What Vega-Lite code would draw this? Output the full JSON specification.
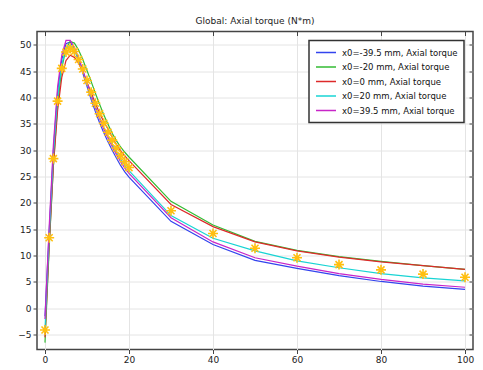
{
  "$schema": "https://vega.github.io/schema/vega-lite/v6.json",
  "width": 436,
  "height": 318,
  "autosize": "none",
  "padding": {"left": 37, "top": 31.5, "right": 10, "bottom": 20},
  "background": "white",
  "title": {"text": "Global: Axial torque (N*m)", "fontSize": 9, "fontWeight": "normal", "font": "DejaVu Sans", "color": "#222", "offset": 5},
  "config": {
    "view": {"stroke": "#444", "strokeWidth": 1.5},
    "axis": {"labelFont": "DejaVu Sans", "labelFontSize": 9, "labelColor": "#222", "gridColor": "#e4e4e4", "gridWidth": 1, "domain": false, "tickColor": "#444", "tickSize": 4, "tickWidth": 1, "title": null, "labelOverlap": false},
    "legend": {"labelFont": "DejaVu Sans", "labelFontSize": 8.5, "labelColor": "#111"}
  },
  "resolve": {"axis": {"x": "independent", "y": "independent"}},
  "datasets": {
    "lines": [
      {"s": "x0=-39.5 mm, Axial torque", "x": 0, "v": -1.5}, {"s": "x0=-39.5 mm, Axial torque", "x": 1, "v": 14.5}, {"s": "x0=-39.5 mm, Axial torque", "x": 2, "v": 30.0}, {"s": "x0=-39.5 mm, Axial torque", "x": 3, "v": 41.0}, {"s": "x0=-39.5 mm, Axial torque", "x": 4, "v": 47.2}, {"s": "x0=-39.5 mm, Axial torque", "x": 5, "v": 50.2}, {"s": "x0=-39.5 mm, Axial torque", "x": 6, "v": 50.5}, {"s": "x0=-39.5 mm, Axial torque", "x": 7, "v": 49.2}, {"s": "x0=-39.5 mm, Axial torque", "x": 8, "v": 47.0}, {"s": "x0=-39.5 mm, Axial torque", "x": 9, "v": 44.6}, {"s": "x0=-39.5 mm, Axial torque", "x": 10, "v": 42.1}, {"s": "x0=-39.5 mm, Axial torque", "x": 11, "v": 39.6}, {"s": "x0=-39.5 mm, Axial torque", "x": 12, "v": 37.3}, {"s": "x0=-39.5 mm, Axial torque", "x": 13, "v": 35.2}, {"s": "x0=-39.5 mm, Axial torque", "x": 14, "v": 33.3}, {"s": "x0=-39.5 mm, Axial torque", "x": 15, "v": 31.6}, {"s": "x0=-39.5 mm, Axial torque", "x": 16, "v": 30.0}, {"s": "x0=-39.5 mm, Axial torque", "x": 17, "v": 28.5}, {"s": "x0=-39.5 mm, Axial torque", "x": 18, "v": 27.1}, {"s": "x0=-39.5 mm, Axial torque", "x": 19, "v": 25.9}, {"s": "x0=-39.5 mm, Axial torque", "x": 20, "v": 24.9}, {"s": "x0=-39.5 mm, Axial torque", "x": 30, "v": 16.5}, {"s": "x0=-39.5 mm, Axial torque", "x": 40, "v": 12.1}, {"s": "x0=-39.5 mm, Axial torque", "x": 50, "v": 9.1}, {"s": "x0=-39.5 mm, Axial torque", "x": 60, "v": 7.6}, {"s": "x0=-39.5 mm, Axial torque", "x": 70, "v": 6.2}, {"s": "x0=-39.5 mm, Axial torque", "x": 80, "v": 5.1}, {"s": "x0=-39.5 mm, Axial torque", "x": 90, "v": 4.2}, {"s": "x0=-39.5 mm, Axial torque", "x": 100, "v": 3.6},
      {"s": "x0=-20 mm, Axial torque", "x": 0, "v": -6.5}, {"s": "x0=-20 mm, Axial torque", "x": 1, "v": 11.5}, {"s": "x0=-20 mm, Axial torque", "x": 2, "v": 27.0}, {"s": "x0=-20 mm, Axial torque", "x": 3, "v": 38.5}, {"s": "x0=-20 mm, Axial torque", "x": 4, "v": 45.5}, {"s": "x0=-20 mm, Axial torque", "x": 5, "v": 49.3}, {"s": "x0=-20 mm, Axial torque", "x": 6, "v": 50.6}, {"s": "x0=-20 mm, Axial torque", "x": 7, "v": 50.3}, {"s": "x0=-20 mm, Axial torque", "x": 8, "v": 49.0}, {"s": "x0=-20 mm, Axial torque", "x": 9, "v": 47.2}, {"s": "x0=-20 mm, Axial torque", "x": 10, "v": 45.1}, {"s": "x0=-20 mm, Axial torque", "x": 11, "v": 43.0}, {"s": "x0=-20 mm, Axial torque", "x": 12, "v": 40.8}, {"s": "x0=-20 mm, Axial torque", "x": 13, "v": 38.7}, {"s": "x0=-20 mm, Axial torque", "x": 14, "v": 36.7}, {"s": "x0=-20 mm, Axial torque", "x": 15, "v": 34.9}, {"s": "x0=-20 mm, Axial torque", "x": 16, "v": 33.2}, {"s": "x0=-20 mm, Axial torque", "x": 17, "v": 31.8}, {"s": "x0=-20 mm, Axial torque", "x": 18, "v": 30.6}, {"s": "x0=-20 mm, Axial torque", "x": 19, "v": 29.6}, {"s": "x0=-20 mm, Axial torque", "x": 20, "v": 28.7}, {"s": "x0=-20 mm, Axial torque", "x": 30, "v": 20.3}, {"s": "x0=-20 mm, Axial torque", "x": 40, "v": 15.8}, {"s": "x0=-20 mm, Axial torque", "x": 50, "v": 12.7}, {"s": "x0=-20 mm, Axial torque", "x": 60, "v": 11.0}, {"s": "x0=-20 mm, Axial torque", "x": 70, "v": 9.8}, {"s": "x0=-20 mm, Axial torque", "x": 80, "v": 8.9}, {"s": "x0=-20 mm, Axial torque", "x": 90, "v": 8.1}, {"s": "x0=-20 mm, Axial torque", "x": 100, "v": 7.4},
      {"s": "x0=0 mm, Axial torque", "x": 0, "v": -5.5}, {"s": "x0=0 mm, Axial torque", "x": 1, "v": 12.0}, {"s": "x0=0 mm, Axial torque", "x": 2, "v": 27.0}, {"s": "x0=0 mm, Axial torque", "x": 3, "v": 37.5}, {"s": "x0=0 mm, Axial torque", "x": 4, "v": 43.8}, {"s": "x0=0 mm, Axial torque", "x": 5, "v": 47.0}, {"s": "x0=0 mm, Axial torque", "x": 6, "v": 48.0}, {"s": "x0=0 mm, Axial torque", "x": 7, "v": 47.6}, {"s": "x0=0 mm, Axial torque", "x": 8, "v": 46.5}, {"s": "x0=0 mm, Axial torque", "x": 9, "v": 44.8}, {"s": "x0=0 mm, Axial torque", "x": 10, "v": 42.9}, {"s": "x0=0 mm, Axial torque", "x": 11, "v": 40.9}, {"s": "x0=0 mm, Axial torque", "x": 12, "v": 38.9}, {"s": "x0=0 mm, Axial torque", "x": 13, "v": 37.0}, {"s": "x0=0 mm, Axial torque", "x": 14, "v": 35.4}, {"s": "x0=0 mm, Axial torque", "x": 15, "v": 34.0}, {"s": "x0=0 mm, Axial torque", "x": 16, "v": 32.5}, {"s": "x0=0 mm, Axial torque", "x": 17, "v": 31.1}, {"s": "x0=0 mm, Axial torque", "x": 18, "v": 29.9}, {"s": "x0=0 mm, Axial torque", "x": 19, "v": 28.9}, {"s": "x0=0 mm, Axial torque", "x": 20, "v": 28.0}, {"s": "x0=0 mm, Axial torque", "x": 30, "v": 19.7}, {"s": "x0=0 mm, Axial torque", "x": 40, "v": 15.5}, {"s": "x0=0 mm, Axial torque", "x": 50, "v": 12.6}, {"s": "x0=0 mm, Axial torque", "x": 60, "v": 10.9}, {"s": "x0=0 mm, Axial torque", "x": 70, "v": 9.7}, {"s": "x0=0 mm, Axial torque", "x": 80, "v": 8.8}, {"s": "x0=0 mm, Axial torque", "x": 90, "v": 8.1}, {"s": "x0=0 mm, Axial torque", "x": 100, "v": 7.4},
      {"s": "x0=20 mm, Axial torque", "x": 0, "v": -4.0}, {"s": "x0=20 mm, Axial torque", "x": 1, "v": 13.5}, {"s": "x0=20 mm, Axial torque", "x": 2, "v": 29.0}, {"s": "x0=20 mm, Axial torque", "x": 3, "v": 40.0}, {"s": "x0=20 mm, Axial torque", "x": 4, "v": 46.2}, {"s": "x0=20 mm, Axial torque", "x": 5, "v": 49.3}, {"s": "x0=20 mm, Axial torque", "x": 6, "v": 49.9}, {"s": "x0=20 mm, Axial torque", "x": 7, "v": 49.0}, {"s": "x0=20 mm, Axial torque", "x": 8, "v": 47.2}, {"s": "x0=20 mm, Axial torque", "x": 9, "v": 45.0}, {"s": "x0=20 mm, Axial torque", "x": 10, "v": 42.7}, {"s": "x0=20 mm, Axial torque", "x": 11, "v": 40.4}, {"s": "x0=20 mm, Axial torque", "x": 12, "v": 38.2}, {"s": "x0=20 mm, Axial torque", "x": 13, "v": 36.2}, {"s": "x0=20 mm, Axial torque", "x": 14, "v": 34.3}, {"s": "x0=20 mm, Axial torque", "x": 15, "v": 32.6}, {"s": "x0=20 mm, Axial torque", "x": 16, "v": 31.0}, {"s": "x0=20 mm, Axial torque", "x": 17, "v": 29.6}, {"s": "x0=20 mm, Axial torque", "x": 18, "v": 28.3}, {"s": "x0=20 mm, Axial torque", "x": 19, "v": 27.1}, {"s": "x0=20 mm, Axial torque", "x": 20, "v": 26.1}, {"s": "x0=20 mm, Axial torque", "x": 30, "v": 17.6}, {"s": "x0=20 mm, Axial torque", "x": 40, "v": 13.3}, {"s": "x0=20 mm, Axial torque", "x": 50, "v": 10.9}, {"s": "x0=20 mm, Axial torque", "x": 60, "v": 9.0}, {"s": "x0=20 mm, Axial torque", "x": 70, "v": 7.7}, {"s": "x0=20 mm, Axial torque", "x": 80, "v": 6.6}, {"s": "x0=20 mm, Axial torque", "x": 90, "v": 5.8}, {"s": "x0=20 mm, Axial torque", "x": 100, "v": 5.2},
      {"s": "x0=39.5 mm, Axial torque", "x": 0, "v": -2.0}, {"s": "x0=39.5 mm, Axial torque", "x": 1, "v": 15.5}, {"s": "x0=39.5 mm, Axial torque", "x": 2, "v": 31.0}, {"s": "x0=39.5 mm, Axial torque", "x": 3, "v": 42.0}, {"s": "x0=39.5 mm, Axial torque", "x": 4, "v": 48.0}, {"s": "x0=39.5 mm, Axial torque", "x": 5, "v": 50.8}, {"s": "x0=39.5 mm, Axial torque", "x": 6, "v": 50.8}, {"s": "x0=39.5 mm, Axial torque", "x": 7, "v": 49.5}, {"s": "x0=39.5 mm, Axial torque", "x": 8, "v": 47.5}, {"s": "x0=39.5 mm, Axial torque", "x": 9, "v": 45.2}, {"s": "x0=39.5 mm, Axial torque", "x": 10, "v": 42.8}, {"s": "x0=39.5 mm, Axial torque", "x": 11, "v": 40.4}, {"s": "x0=39.5 mm, Axial torque", "x": 12, "v": 38.1}, {"s": "x0=39.5 mm, Axial torque", "x": 13, "v": 36.0}, {"s": "x0=39.5 mm, Axial torque", "x": 14, "v": 34.0}, {"s": "x0=39.5 mm, Axial torque", "x": 15, "v": 32.3}, {"s": "x0=39.5 mm, Axial torque", "x": 16, "v": 30.7}, {"s": "x0=39.5 mm, Axial torque", "x": 17, "v": 29.2}, {"s": "x0=39.5 mm, Axial torque", "x": 18, "v": 27.8}, {"s": "x0=39.5 mm, Axial torque", "x": 19, "v": 26.6}, {"s": "x0=39.5 mm, Axial torque", "x": 20, "v": 25.6}, {"s": "x0=39.5 mm, Axial torque", "x": 30, "v": 17.2}, {"s": "x0=39.5 mm, Axial torque", "x": 40, "v": 12.6}, {"s": "x0=39.5 mm, Axial torque", "x": 50, "v": 9.6}, {"s": "x0=39.5 mm, Axial torque", "x": 60, "v": 8.0}, {"s": "x0=39.5 mm, Axial torque", "x": 70, "v": 6.6}, {"s": "x0=39.5 mm, Axial torque", "x": 80, "v": 5.5}, {"s": "x0=39.5 mm, Axial torque", "x": 90, "v": 4.6}, {"s": "x0=39.5 mm, Axial torque", "x": 100, "v": 4.0}
    ],
    "stars": [
      {"x": 0, "v": -4.1}, {"x": 1, "v": 13.4}, {"x": 2, "v": 28.4}, {"x": 3, "v": 39.3}, {"x": 4, "v": 45.5}, {"x": 5, "v": 48.6}, {"x": 6, "v": 49.3}, {"x": 7, "v": 48.7}, {"x": 8, "v": 47.2}, {"x": 9, "v": 45.4}, {"x": 10, "v": 43.2}, {"x": 11, "v": 41.0}, {"x": 12, "v": 38.9}, {"x": 13, "v": 36.9}, {"x": 14, "v": 35.1}, {"x": 15, "v": 33.4}, {"x": 16, "v": 31.9}, {"x": 17, "v": 30.4}, {"x": 18, "v": 29.0}, {"x": 19, "v": 27.8}, {"x": 20, "v": 26.7}, {"x": 30, "v": 18.5}, {"x": 40, "v": 14.2}, {"x": 50, "v": 11.4}, {"x": 60, "v": 9.6}, {"x": 70, "v": 8.3}, {"x": 80, "v": 7.3}, {"x": 90, "v": 6.5}, {"x": 100, "v": 5.9}
    ]
  },
  "layer": [
    {
      "data": {"name": "lines"},
      "mark": {"type": "line", "strokeWidth": 1.2, "clip": true},
      "encoding": {
        "x": {"field": "x", "type": "quantitative", "scale": {"domain": [-1.9, 101.9], "nice": false, "zero": false},
              "axis": {"orient": "bottom", "values": [0, 20, 40, 60, 80, 100], "labelPadding": 2}},
        "y": {"field": "v", "type": "quantitative", "scale": {"domain": [-7.8, 52.5], "nice": false, "zero": false},
              "axis": {"orient": "left", "values": [-5, 0, 5, 10, 15, 20, 25, 30, 35, 40, 45, 50], "labelPadding": 2}},
        "color": {"field": "s", "type": "nominal",
          "scale": {"domain": ["x0=-39.5 mm, Axial torque", "x0=-20 mm, Axial torque", "x0=0 mm, Axial torque", "x0=20 mm, Axial torque", "x0=39.5 mm, Axial torque"],
                    "range": ["#3344ee", "#33bb33", "#dd2a2a", "#18d4d4", "#c825c8"]},
          "legend": {"title": null, "orient": "top-right", "offset": 9, "padding": 6, "strokeColor": "#333", "fillColor": "white",
                     "symbolType": "stroke", "symbolSize": 400, "symbolStrokeWidth": 1.5, "rowPadding": 2.5, "clipHeight": 12, "labelOffset": 5, "labelLimit": 300,
                     "encode": {"legend": {"update": {"strokeWidth": {"value": 1.5}}}}}},
        "order": {"field": "x", "type": "quantitative"}
      }
    },
    {
      "data": {"name": "stars"},
      "mark": {"type": "point", "shape": "M-1,0L1,0M0,-1L0,1M-0.7,-0.7L0.7,0.7M-0.7,0.7L0.7,-0.7", "filled": false, "stroke": "#ffbf10", "strokeWidth": 1.6, "size": 100, "opacity": 1, "clip": true},
      "encoding": {
        "x": {"field": "x", "type": "quantitative",
              "axis": {"orient": "top", "values": [0, 20, 40, 60, 80, 100], "labels": false, "grid": false, "tickSize": -4}},
        "y": {"field": "v", "type": "quantitative",
              "axis": {"orient": "right", "values": [-5, 0, 5, 10, 15, 20, 25, 30, 35, 40, 45, 50], "labels": false, "grid": false, "tickSize": -4}}
      }
    }
  ]
}
